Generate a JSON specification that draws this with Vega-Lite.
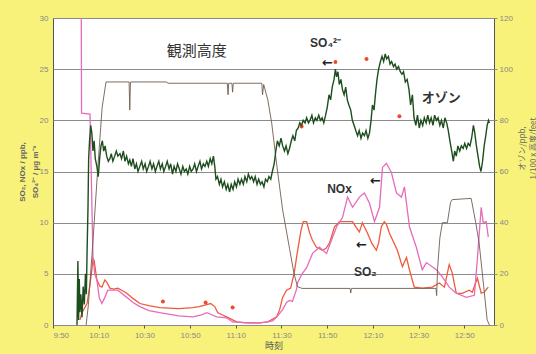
{
  "$schema": "https://vega.github.io/schema/vega-lite/v6.json",
  "width": 441,
  "height": 307,
  "autosize": "none",
  "padding": {"left": 53, "top": 18, "right": 42, "bottom": 29},
  "background": "#F8F27A",
  "config": {
    "view": {"fill": "white", "stroke": "#555555", "strokeWidth": 1},
    "font": "Liberation Sans",
    "axis": {"labelColor": "#888888", "labelFontSize": 8, "titleColor": "#555555", "domain": false}
  },
  "datasets": {
    "so2": [
      {"t": 601.8, "v": 0.5}, {"t": 602.7, "v": 1.2}, {"t": 604.9, "v": 2.1}, {"t": 606.2, "v": 4.0}, {"t": 607.0, "v": 5.4},
      {"t": 607.5, "v": 6.5}, {"t": 608.0, "v": 6.3}, {"t": 609.2, "v": 4.4}, {"t": 610.5, "v": 3.8}, {"t": 611.4, "v": 3.7},
      {"t": 612.7, "v": 4.4}, {"t": 613.5, "v": 4.2}, {"t": 614.9, "v": 3.6}, {"t": 616.5, "v": 3.5}, {"t": 618.4, "v": 3.6},
      {"t": 620.0, "v": 3.4}, {"t": 622.3, "v": 3.1}, {"t": 625.0, "v": 2.6}, {"t": 628.0, "v": 2.1}, {"t": 632.0, "v": 1.9},
      {"t": 636.7, "v": 1.7}, {"t": 645.0, "v": 1.6}, {"t": 651.2, "v": 1.7}, {"t": 654.0, "v": 1.8}, {"t": 657.3, "v": 2.0},
      {"t": 659.0, "v": 2.1}, {"t": 660.8, "v": 1.8}, {"t": 662.1, "v": 1.2}, {"t": 664.0, "v": 1.0}, {"t": 666.0, "v": 0.8},
      {"t": 668.6, "v": 0.5}, {"t": 670.4, "v": 0.3}, {"t": 675.0, "v": 0.2}, {"t": 680.4, "v": 0.2}, {"t": 684.0, "v": 0.3},
      {"t": 687.9, "v": 0.8}, {"t": 689.2, "v": 1.5}, {"t": 690.5, "v": 2.7}, {"t": 692.2, "v": 3.4}, {"t": 694.0, "v": 3.6},
      {"t": 695.5, "v": 5.0}, {"t": 697.0, "v": 7.2}, {"t": 698.5, "v": 9.2}, {"t": 699.5, "v": 10.1}, {"t": 701.0, "v": 10.1},
      {"t": 702.3, "v": 9.0}, {"t": 703.5, "v": 8.3}, {"t": 705.3, "v": 7.6}, {"t": 708.0, "v": 7.3}, {"t": 709.5, "v": 7.5},
      {"t": 711.0, "v": 8.0}, {"t": 713.2, "v": 9.6}, {"t": 715.4, "v": 10.1}, {"t": 718.0, "v": 10.1}, {"t": 721.1, "v": 10.1},
      {"t": 722.8, "v": 9.5}, {"t": 724.1, "v": 9.1}, {"t": 725.4, "v": 10.0}, {"t": 727.6, "v": 9.0}, {"t": 729.5, "v": 8.0},
      {"t": 731.5, "v": 7.3}, {"t": 732.5, "v": 8.0}, {"t": 733.7, "v": 9.6}, {"t": 735.0, "v": 10.1}, {"t": 736.0, "v": 9.8},
      {"t": 737.2, "v": 9.0}, {"t": 740.7, "v": 7.3}, {"t": 742.9, "v": 5.7}, {"t": 744.7, "v": 6.6}, {"t": 746.0, "v": 5.4},
      {"t": 748.1, "v": 3.7}, {"t": 751.6, "v": 3.6}, {"t": 756.0, "v": 3.7}, {"t": 759.1, "v": 4.1}, {"t": 761.3, "v": 3.7},
      {"t": 763.4, "v": 5.9}, {"t": 764.7, "v": 5.1}, {"t": 766.5, "v": 3.1}, {"t": 769.1, "v": 3.1}, {"t": 772.2, "v": 3.4},
      {"t": 773.5, "v": 3.2}, {"t": 775.7, "v": 4.6}, {"t": 777.4, "v": 3.1}, {"t": 778.7, "v": 3.2}, {"t": 780.5, "v": 3.7}
    ],
    "nox": [
      {"t": 602.3, "v": 36}, {"t": 602.5, "v": 20.7}, {"t": 606.2, "v": 20.6}, {"t": 607.0, "v": 12.0}, {"t": 607.5, "v": 6.6},
      {"t": 608.3, "v": 5.0}, {"t": 609.2, "v": 4.4}, {"t": 610.3, "v": 2.6}, {"t": 611.4, "v": 2.1}, {"t": 612.7, "v": 2.7},
      {"t": 614.0, "v": 3.4}, {"t": 616.0, "v": 3.4}, {"t": 618.4, "v": 3.4}, {"t": 620.0, "v": 3.1}, {"t": 622.3, "v": 2.7},
      {"t": 625.0, "v": 2.2}, {"t": 628.0, "v": 1.8}, {"t": 632.0, "v": 1.4}, {"t": 636.7, "v": 1.2}, {"t": 645.0, "v": 0.9},
      {"t": 651.2, "v": 0.8}, {"t": 655.0, "v": 1.0}, {"t": 657.3, "v": 1.2}, {"t": 659.5, "v": 1.0}, {"t": 661.6, "v": 0.8},
      {"t": 666.0, "v": 0.7}, {"t": 668.6, "v": 0.3}, {"t": 675.0, "v": 0.2}, {"t": 680.4, "v": 0.2}, {"t": 684.0, "v": 0.3},
      {"t": 686.1, "v": 0.4}, {"t": 688.0, "v": 0.8}, {"t": 690.5, "v": 1.5}, {"t": 692.2, "v": 2.2}, {"t": 693.5, "v": 2.4},
      {"t": 694.8, "v": 2.3}, {"t": 696.6, "v": 3.5}, {"t": 697.0, "v": 4.1}, {"t": 699.0, "v": 5.0}, {"t": 701.0, "v": 5.6},
      {"t": 703.6, "v": 7.0}, {"t": 706.6, "v": 7.6}, {"t": 709.7, "v": 7.0}, {"t": 711.9, "v": 8.3}, {"t": 714.1, "v": 9.6},
      {"t": 716.7, "v": 10.5}, {"t": 718.9, "v": 12.5}, {"t": 721.1, "v": 11.5}, {"t": 724.1, "v": 12.5}, {"t": 726.3, "v": 12.9},
      {"t": 728.5, "v": 11.9}, {"t": 730.7, "v": 10.1}, {"t": 732.9, "v": 11.5}, {"t": 734.2, "v": 15.4}, {"t": 735.9, "v": 15.8},
      {"t": 738.1, "v": 14.9}, {"t": 740.3, "v": 12.9}, {"t": 742.5, "v": 12.5}, {"t": 743.8, "v": 13.5}, {"t": 746.0, "v": 9.6},
      {"t": 749.0, "v": 7.6}, {"t": 751.6, "v": 5.4}, {"t": 753.4, "v": 6.1}, {"t": 757.8, "v": 5.4}, {"t": 760.4, "v": 4.7},
      {"t": 763.4, "v": 3.7}, {"t": 766.5, "v": 3.1}, {"t": 770.9, "v": 2.7}, {"t": 774.4, "v": 2.9}, {"t": 775.7, "v": 6.4},
      {"t": 777.4, "v": 11.5}, {"t": 778.3, "v": 10.0}, {"t": 779.6, "v": 10.1}, {"t": 780.5, "v": 8.6}
    ],
    "so4": [
      {"t": 638.1, "v": 2.3}, {"t": 656.8, "v": 2.2}, {"t": 668.6, "v": 1.7}, {"t": 698.8, "v": 19.4},
      {"t": 713.6, "v": 25.7}, {"t": 727.2, "v": 26.0}, {"t": 741.6, "v": 20.4}
    ],
    "alt": [
      {"t": 604.5, "v": 0}, {"t": 605.5, "v": 8}, {"t": 607.5, "v": 33}, {"t": 609.5, "v": 60}, {"t": 611.5, "v": 85},
      {"t": 613.2, "v": 95}, {"t": 623.3, "v": 95}, {"t": 623.6, "v": 84}, {"t": 623.9, "v": 95}, {"t": 639.8, "v": 95},
      {"t": 640.2, "v": 94.5}, {"t": 666.3, "v": 94.5}, {"t": 666.6, "v": 90}, {"t": 666.9, "v": 94.5}, {"t": 668.3, "v": 94.5},
      {"t": 668.6, "v": 91}, {"t": 668.9, "v": 94.5}, {"t": 681.4, "v": 94.5}, {"t": 681.7, "v": 90}, {"t": 682.2, "v": 94},
      {"t": 684.0, "v": 88}, {"t": 685.7, "v": 79}, {"t": 688.0, "v": 62}, {"t": 690.5, "v": 45}, {"t": 693.5, "v": 30},
      {"t": 695.5, "v": 20}, {"t": 697.0, "v": 15}, {"t": 699.0, "v": 14.3}, {"t": 720.0, "v": 14.3}, {"t": 720.3, "v": 12.5},
      {"t": 720.6, "v": 14.3}, {"t": 757.6, "v": 14.3}, {"t": 757.9, "v": 11.5}, {"t": 758.3, "v": 22}, {"t": 759.3, "v": 34},
      {"t": 760.4, "v": 40}, {"t": 762.6, "v": 40}, {"t": 764.0, "v": 48}, {"t": 764.7, "v": 49}, {"t": 773.0, "v": 49.5},
      {"t": 775.0, "v": 40}, {"t": 776.5, "v": 32}, {"t": 778.5, "v": 15}, {"t": 780.0, "v": 2}, {"t": 781.0, "v": 0}
    ],
    "ozone": [
      {"t": 600.5, "v": 0}, {"t": 600.9, "v": 25}, {"t": 601.2, "v": 2}, {"t": 601.5, "v": 18}, {"t": 601.8, "v": 5},
      {"t": 602.2, "v": 12}, {"t": 602.7, "v": 3}, {"t": 603.2, "v": 15}, {"t": 603.7, "v": 8}, {"t": 604.2, "v": 20},
      {"t": 604.6, "v": 12}, {"t": 604.9, "v": 28}, {"t": 605.3, "v": 45}, {"t": 605.6, "v": 65}, {"t": 606.0, "v": 72},
      {"t": 606.5, "v": 78}, {"t": 607.0, "v": 75}, {"t": 607.5, "v": 68}, {"t": 608.0, "v": 72}, {"t": 608.5, "v": 65},
      {"t": 609.2, "v": 62}, {"t": 609.8, "v": 58}, {"t": 610.5, "v": 66}, {"t": 611.0, "v": 70}, {"t": 611.6, "v": 72},
      {"t": 612.2, "v": 68}, {"t": 612.8, "v": 70}, {"t": 613.5, "v": 66}, {"t": 614.2, "v": 64}, {"t": 614.9, "v": 65},
      {"t": 615.5, "v": 67}, {"t": 616.2, "v": 64}, {"t": 617.0, "v": 66}, {"t": 617.7, "v": 68}, {"t": 618.4, "v": 66},
      {"t": 619.3, "v": 67}, {"t": 620.0, "v": 65}, {"t": 620.8, "v": 68}, {"t": 621.5, "v": 64}, {"t": 622.2, "v": 66},
      {"t": 623.0, "v": 63}, {"t": 623.6, "v": 64.5}, {"t": 624.3, "v": 62}, {"t": 625.0, "v": 65}, {"t": 625.8, "v": 61},
      {"t": 626.5, "v": 63}, {"t": 627.2, "v": 60}, {"t": 628.0, "v": 62}, {"t": 628.8, "v": 64}, {"t": 629.5, "v": 61},
      {"t": 630.3, "v": 63}, {"t": 631.0, "v": 60}, {"t": 631.8, "v": 62}, {"t": 632.5, "v": 64}, {"t": 633.3, "v": 61},
      {"t": 634.0, "v": 63}, {"t": 634.8, "v": 60}, {"t": 635.5, "v": 62}, {"t": 636.3, "v": 64}, {"t": 637.0, "v": 61},
      {"t": 637.8, "v": 63}, {"t": 638.5, "v": 60}, {"t": 639.3, "v": 62}, {"t": 640.0, "v": 64}, {"t": 640.8, "v": 61},
      {"t": 641.5, "v": 63}, {"t": 642.3, "v": 59}, {"t": 643.0, "v": 62}, {"t": 643.8, "v": 60}, {"t": 644.5, "v": 63},
      {"t": 645.3, "v": 61}, {"t": 646.0, "v": 59}, {"t": 646.8, "v": 62}, {"t": 647.5, "v": 60}, {"t": 648.3, "v": 61},
      {"t": 649.0, "v": 59}, {"t": 649.8, "v": 62}, {"t": 650.5, "v": 60}, {"t": 651.3, "v": 61}, {"t": 652.0, "v": 63},
      {"t": 652.8, "v": 60}, {"t": 653.5, "v": 62}, {"t": 654.3, "v": 64}, {"t": 655.0, "v": 61}, {"t": 655.8, "v": 63},
      {"t": 656.5, "v": 62}, {"t": 657.3, "v": 64}, {"t": 658.0, "v": 62}, {"t": 658.8, "v": 65}, {"t": 659.5, "v": 63},
      {"t": 660.2, "v": 66}, {"t": 660.8, "v": 62}, {"t": 661.3, "v": 57}, {"t": 662.0, "v": 58}, {"t": 662.8, "v": 55},
      {"t": 663.5, "v": 57}, {"t": 664.2, "v": 54}, {"t": 665.0, "v": 56}, {"t": 665.8, "v": 53}, {"t": 666.5, "v": 55},
      {"t": 667.3, "v": 52}, {"t": 668.0, "v": 55}, {"t": 668.8, "v": 53}, {"t": 669.5, "v": 56}, {"t": 670.3, "v": 54},
      {"t": 671.0, "v": 57}, {"t": 671.8, "v": 55}, {"t": 672.5, "v": 57}, {"t": 673.3, "v": 55}, {"t": 674.0, "v": 58},
      {"t": 674.8, "v": 56}, {"t": 675.5, "v": 59}, {"t": 676.3, "v": 57}, {"t": 677.0, "v": 58}, {"t": 677.8, "v": 56},
      {"t": 678.5, "v": 58}, {"t": 679.3, "v": 55}, {"t": 680.0, "v": 57}, {"t": 680.8, "v": 55}, {"t": 681.5, "v": 56},
      {"t": 682.3, "v": 54}, {"t": 683.0, "v": 57}, {"t": 683.8, "v": 56}, {"t": 684.5, "v": 58}, {"t": 685.3, "v": 57},
      {"t": 686.0, "v": 60}, {"t": 686.8, "v": 63}, {"t": 687.5, "v": 68}, {"t": 688.2, "v": 72}, {"t": 689.0, "v": 70},
      {"t": 689.8, "v": 73}, {"t": 690.5, "v": 70}, {"t": 691.3, "v": 68}, {"t": 692.0, "v": 70}, {"t": 692.8, "v": 67},
      {"t": 693.5, "v": 69}, {"t": 694.3, "v": 72}, {"t": 695.0, "v": 74}, {"t": 695.8, "v": 72}, {"t": 696.5, "v": 76},
      {"t": 697.3, "v": 77}, {"t": 698.0, "v": 79}, {"t": 698.8, "v": 78}, {"t": 699.5, "v": 80}, {"t": 700.3, "v": 79},
      {"t": 701.0, "v": 81}, {"t": 701.8, "v": 79}, {"t": 702.5, "v": 80}, {"t": 703.3, "v": 82}, {"t": 704.0, "v": 79},
      {"t": 704.8, "v": 81}, {"t": 705.5, "v": 80}, {"t": 706.3, "v": 82}, {"t": 707.0, "v": 80}, {"t": 707.8, "v": 81},
      {"t": 708.5, "v": 79}, {"t": 709.3, "v": 82}, {"t": 710.0, "v": 85}, {"t": 710.8, "v": 90}, {"t": 711.5, "v": 88},
      {"t": 712.2, "v": 93}, {"t": 713.0, "v": 96}, {"t": 713.6, "v": 100}, {"t": 714.1, "v": 97}, {"t": 714.7, "v": 99},
      {"t": 715.3, "v": 94}, {"t": 716.0, "v": 96}, {"t": 716.7, "v": 92}, {"t": 717.4, "v": 90}, {"t": 718.1, "v": 93},
      {"t": 718.8, "v": 88}, {"t": 719.5, "v": 86}, {"t": 720.3, "v": 84}, {"t": 721.0, "v": 80}, {"t": 721.8, "v": 78},
      {"t": 722.5, "v": 76}, {"t": 723.3, "v": 74}, {"t": 724.0, "v": 76}, {"t": 724.8, "v": 73}, {"t": 725.5, "v": 75},
      {"t": 726.3, "v": 74}, {"t": 727.0, "v": 76}, {"t": 727.8, "v": 73}, {"t": 728.5, "v": 75}, {"t": 729.2, "v": 80},
      {"t": 729.8, "v": 86}, {"t": 730.5, "v": 84}, {"t": 731.2, "v": 91}, {"t": 731.8, "v": 96}, {"t": 732.5, "v": 100},
      {"t": 733.3, "v": 103}, {"t": 734.0, "v": 105}, {"t": 734.7, "v": 103}, {"t": 735.4, "v": 106}, {"t": 736.0, "v": 104},
      {"t": 736.8, "v": 105}, {"t": 737.5, "v": 102}, {"t": 738.2, "v": 103}, {"t": 739.0, "v": 101}, {"t": 739.7, "v": 102},
      {"t": 740.4, "v": 100}, {"t": 741.2, "v": 101}, {"t": 742.0, "v": 99}, {"t": 742.7, "v": 98}, {"t": 743.4, "v": 99},
      {"t": 744.2, "v": 95}, {"t": 745.0, "v": 96}, {"t": 745.8, "v": 92}, {"t": 746.5, "v": 86}, {"t": 747.3, "v": 90},
      {"t": 748.0, "v": 81}, {"t": 748.8, "v": 78}, {"t": 749.5, "v": 82}, {"t": 750.3, "v": 77}, {"t": 751.0, "v": 80},
      {"t": 751.8, "v": 78}, {"t": 752.5, "v": 81}, {"t": 753.3, "v": 79}, {"t": 754.0, "v": 82}, {"t": 754.8, "v": 79},
      {"t": 755.5, "v": 81}, {"t": 756.3, "v": 78}, {"t": 757.0, "v": 82}, {"t": 757.8, "v": 80}, {"t": 758.5, "v": 81},
      {"t": 759.3, "v": 78}, {"t": 760.0, "v": 80}, {"t": 760.8, "v": 77}, {"t": 761.5, "v": 81}, {"t": 762.3, "v": 79},
      {"t": 763.0, "v": 76}, {"t": 763.7, "v": 72}, {"t": 764.5, "v": 68}, {"t": 765.2, "v": 64}, {"t": 765.8, "v": 68},
      {"t": 766.5, "v": 66}, {"t": 767.2, "v": 70}, {"t": 768.0, "v": 68}, {"t": 768.7, "v": 70}, {"t": 769.5, "v": 69},
      {"t": 770.2, "v": 71}, {"t": 771.0, "v": 69}, {"t": 771.7, "v": 71}, {"t": 772.5, "v": 70}, {"t": 773.2, "v": 73},
      {"t": 774.0, "v": 78}, {"t": 774.6, "v": 75}, {"t": 775.3, "v": 70}, {"t": 776.0, "v": 66}, {"t": 776.7, "v": 62},
      {"t": 777.3, "v": 60}, {"t": 778.0, "v": 64}, {"t": 778.7, "v": 70}, {"t": 779.4, "v": 74}, {"t": 780.0, "v": 78},
      {"t": 780.6, "v": 80}, {"t": 781.0, "v": 79}
    ]
  },
  "layer": [
    {
      "layer": [
        {
          "data": {"name": "so2"},
          "mark": {"type": "line", "color": "#EE5A3C", "strokeWidth": 1.3, "clip": true},
          "encoding": {
            "x": {
              "field": "t", "type": "quantitative",
              "scale": {"domain": [590, 783], "nice": false, "zero": false},
              "axis": {
                "values": [590, 600, 610, 620, 630, 640, 650, 660, 670, 680, 690, 700, 710, 720, 730, 740, 750, 760, 770, 780],
                "labelExpr": "(datum.value - 590) % 20 == 0 ? floor(datum.value / 60) + ':' + (datum.value % 60 < 10 ? '0' : '') + (datum.value % 60) : ''",
                "grid": false, "ticks": true, "tickSize": 3, "tickColor": "#555555",
                "labelPadding": 3, "title": "時刻", "titleFont": "Noto Sans CJK JP",
                "titleFontSize": 9, "titleFontWeight": "normal", "titlePadding": 2
              }
            },
            "y": {
              "field": "v", "type": "quantitative",
              "scale": {"domain": [0, 30], "nice": false},
              "axis": {
                "values": [0, 5, 10, 15, 20, 25, 30],
                "grid": true, "gridColor": "#8c8c8c", "gridWidth": 1, "gridOpacity": 1,
                "ticks": false, "labelPadding": 5,
                "title": ["SO₂, NOx / ppb,", "SO₄²⁻ / μg m⁻³"],
                "titleFontSize": 8, "titleFontWeight": "bold", "titleColor": "#666666",
                "titleLineHeight": 13, "titleX": -31, "titleBaseline": "middle", "titleAngle": 270
              }
            }
          }
        },
        {
          "data": {"name": "nox"},
          "mark": {"type": "line", "color": "#E66BB8", "strokeWidth": 1.3, "clip": true},
          "encoding": {
            "x": {"field": "t", "type": "quantitative"},
            "y": {"field": "v", "type": "quantitative"}
          }
        },
        {
          "data": {"name": "so4"},
          "mark": {"type": "point", "filled": true, "color": "#F04A2A", "size": 16, "opacity": 1},
          "encoding": {
            "x": {"field": "t", "type": "quantitative"},
            "y": {"field": "v", "type": "quantitative"}
          }
        },
        {
          "data": {"values": [{}]},
          "mark": {"type": "text", "text": "観測高度", "font": "Noto Sans CJK JP", "fontSize": 15, "color": "#333333"},
          "encoding": {
            "x": {"datum": 652.9, "type": "quantitative"},
            "y": {"datum": 26.8, "type": "quantitative"}
          }
        },
        {
          "data": {"values": [{}]},
          "mark": {"type": "text", "text": "SO₄²⁻", "fontSize": 12, "fontWeight": "bold", "color": "#333333"},
          "encoding": {
            "x": {"datum": 709.3, "type": "quantitative"},
            "y": {"datum": 27.6, "type": "quantitative"}
          }
        },
        {
          "data": {"values": [{}]},
          "mark": {"type": "text", "text": "オゾン", "font": "Noto Sans CJK JP", "fontSize": 13, "fontWeight": "bold", "color": "#333333"},
          "encoding": {
            "x": {"datum": 759.9, "type": "quantitative"},
            "y": {"datum": 22.2, "type": "quantitative"}
          }
        },
        {
          "data": {"values": [{}]},
          "mark": {"type": "text", "text": "NOx", "fontSize": 12, "fontWeight": "bold", "color": "#333333"},
          "encoding": {
            "x": {"datum": 715.4, "type": "quantitative"},
            "y": {"datum": 13.3, "type": "quantitative"}
          }
        },
        {
          "data": {"values": [{}]},
          "mark": {"type": "text", "text": "SO₂", "fontSize": 12, "fontWeight": "bold", "color": "#333333"},
          "encoding": {
            "x": {"datum": 726.7, "type": "quantitative"},
            "y": {"datum": 5.2, "type": "quantitative"}
          }
        },
        {
          "data": {"values": [{"t": 710.1, "v": 25.6}, {"t": 731.1, "v": 14.1}, {"t": 725.0, "v": 7.8}]},
          "mark": {"type": "text", "text": "←", "font": "DejaVu Sans", "fontSize": 13, "fontWeight": "bold", "color": "#222222"},
          "encoding": {
            "x": {"field": "t", "type": "quantitative"},
            "y": {"field": "v", "type": "quantitative"}
          }
        }
      ]
    },
    {
      "layer": [
        {
          "data": {"name": "alt"},
          "mark": {"type": "line", "color": "#6E5E50", "strokeWidth": 0.9, "clip": true},
          "encoding": {
            "x": {"field": "t", "type": "quantitative"},
            "y": {
              "field": "v", "type": "quantitative",
              "scale": {"domain": [0, 120], "nice": false},
              "axis": {
                "orient": "right", "values": [0, 20, 40, 60, 80, 100, 120],
                "grid": false, "ticks": true, "tickSize": 3, "tickColor": "#8c8c8c", "labelPadding": 2,
                "title": ["オゾン/ppb,", "1/100 x 高度/feet"],
                "titleFont": "Noto Sans CJK JP", "titleFontSize": 8, "titleFontWeight": "normal", "titleColor": "#666666",
                "titleLineHeight": 11, "titleAngle": 270, "titleX": 28, "titleY": 130, "titleBaseline": "middle"
              }
            }
          }
        },
        {
          "data": {"name": "ozone"},
          "mark": {"type": "line", "color": "#1E4D1E", "strokeWidth": 1.4, "clip": true},
          "encoding": {
            "x": {"field": "t", "type": "quantitative"},
            "y": {"field": "v", "type": "quantitative"}
          }
        }
      ]
    }
  ],
  "resolve": {"scale": {"y": "independent"}}
}
